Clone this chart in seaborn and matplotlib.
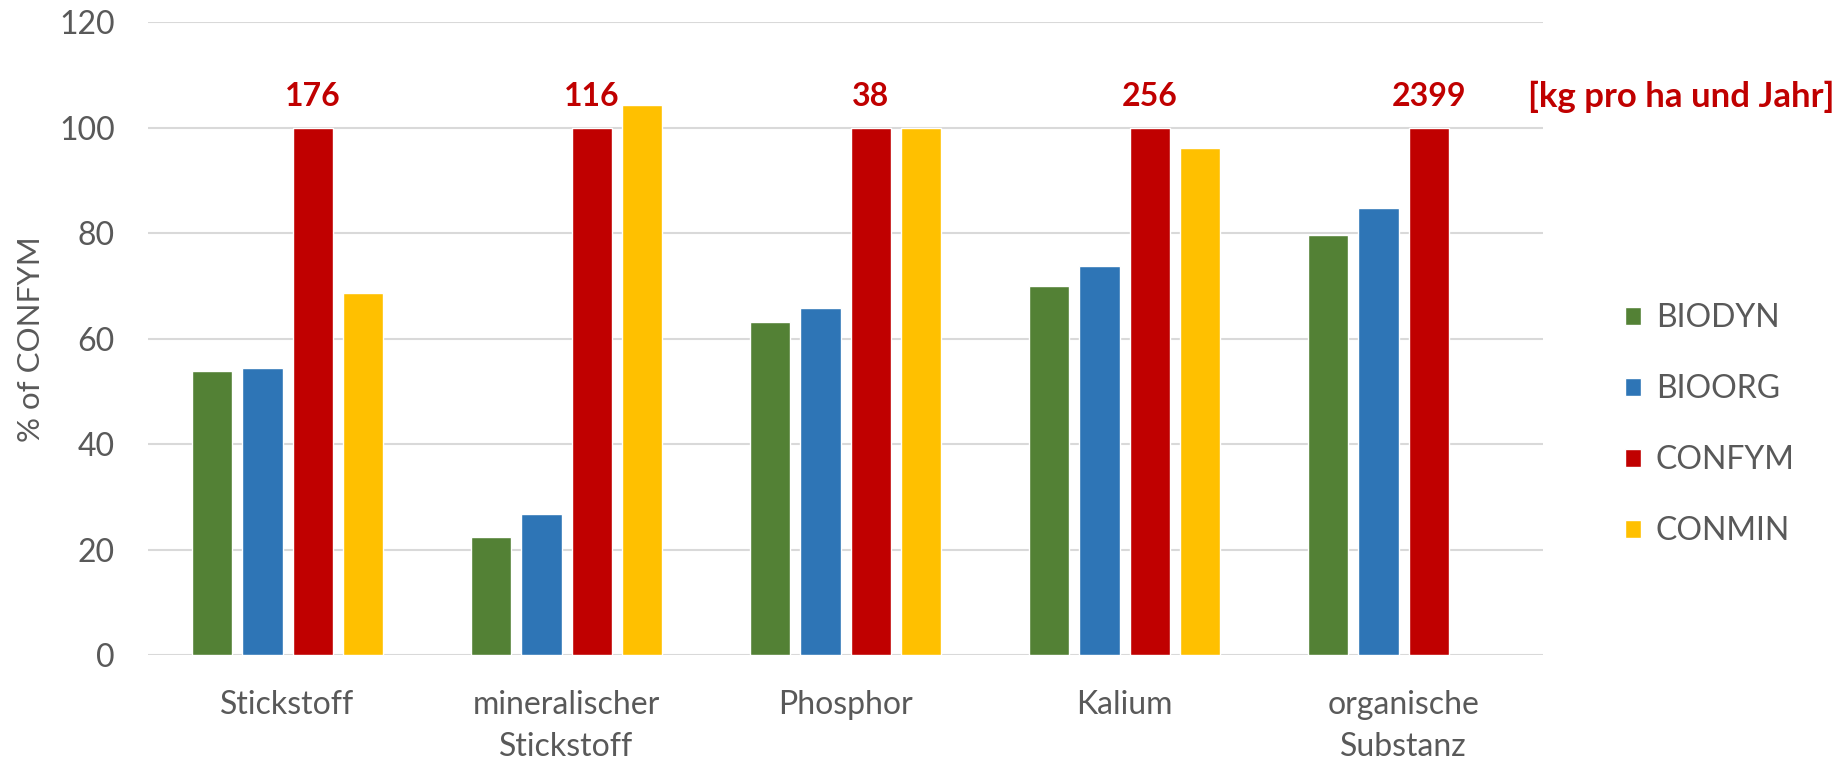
import numpy as np
import pandas as pd
import matplotlib
matplotlib.use("Agg")
import matplotlib.pyplot as plt
import seaborn as sns

categories = ["Stickstoff", "mineralischer\nStickstoff", "Phosphor", "Kalium", "organische\nSubstanz"]
series_names = ["BIODYN", "BIOORG", "CONFYM", "CONMIN"]
biodyn = [53.9, 22.3, 63.1, 69.9, 79.6]
bioorg = [54.5, 26.7, 65.8, 73.8, 84.8]
confym = [100, 100, 100, 100, 100]
conmin = [68.7, 104.4, 100, 96.1, np.nan]
confym_abs = ["176", "116", "38", "256", "2399"]
unit_label = "[kg pro ha und Jahr]"
yticks = [0, 20, 40, 60, 80, 100, 120]

colors = ["#538135", "#2E75B6", "#C00000", "#FFC000"]
text_gray = "#595959"
red = "#C00000"

rows = []
for name, vals in zip(series_names, [biodyn, bioorg, confym, conmin]):
    for c, v in zip(categories, vals):
        rows.append({"cat": c, "series": name, "value": v})
df = pd.DataFrame(rows)

sns.set_theme(style="white")
plt.rcParams["font.family"] = ["Lato", "DejaVu Sans"]

fig = plt.figure(figsize=(18.44, 7.64), dpi=100)
ax = fig.add_axes([0.0803, 0.1427, 0.7565, 0.828])

sns.barplot(data=df, x="cat", y="value", hue="series", order=categories,
            hue_order=series_names, palette=colors, width=0.72, gap=0.2,
            errorbar=None, ax=ax, saturation=1, legend=True)

ax.set_xlim(-0.5, 4.5)
ax.set_ylim(0, 120)
ax.set_yticks(yticks)
ax.yaxis.grid(True, color="#D9D9D9", linewidth=1.5)
ax.set_axisbelow(True)
for s in ax.spines.values():
    s.set_visible(False)
ax.tick_params(axis="both", length=0, labelsize=23, colors=text_gray)
ax.tick_params(axis="y", pad=24)
ax.tick_params(axis="x", pad=25)
ax.set_xlabel("")
ax.set_ylabel("% of CONFYM", fontsize=22.5, color=text_gray, labelpad=10)
for lbl in ax.get_xticklabels():
    lbl.set_linespacing(1.5)

red_container = ax.containers[2]
for bar, txt in zip(red_container.patches, confym_abs):
    cx = bar.get_x() + bar.get_width() / 2
    ax.text(cx, 105.9, txt, ha="center", va="center", fontsize=23,
            fontweight="bold", color=red)
ax.text(0.989, 105.9, unit_label, transform=ax.get_yaxis_transform(),
        ha="left", va="center", fontsize=25, fontweight="bold", color=red,
        clip_on=False)

leg = ax.legend(loc="center left", bbox_to_anchor=(1.059, 0.364), frameon=False,
                fontsize=23, labelcolor=text_gray, handlelength=0.5,
                handleheight=0.5, handletextpad=0.45, labelspacing=1.28,
                borderpad=0, borderaxespad=0)

fig.savefig("out.png", dpi=100, facecolor="white")
